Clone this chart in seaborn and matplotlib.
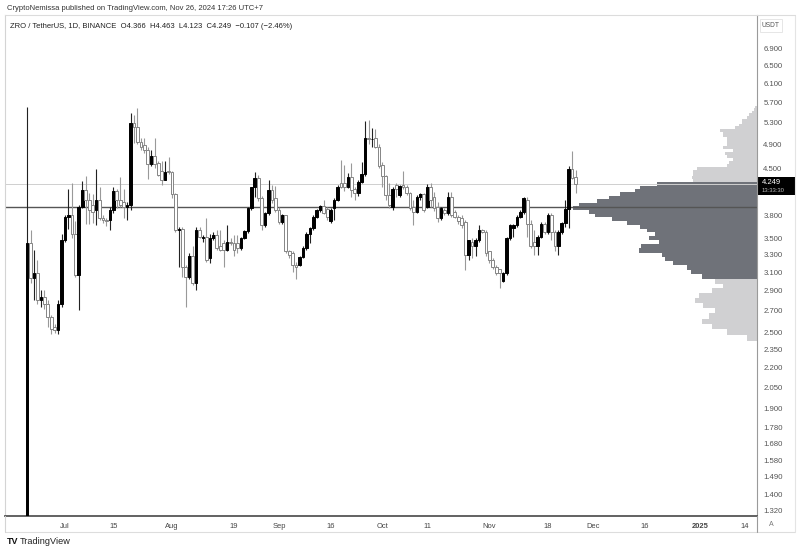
import matplotlib
matplotlib.use("Agg")
import numpy as np
import pandas as pd
import matplotlib.pyplot as plt
import matplotlib.dates as mdates
from matplotlib.patches import Rectangle
from matplotlib.lines import Line2D
from matplotlib.ticker import NullLocator, NullFormatter, FixedLocator, FixedFormatter
import seaborn as sns

# ---------------- data (daily candles ZRO/USDT, 2024-06-20 .. 2024-11-26) -------------
dates = pd.date_range("2024-06-20", "2024-11-26", freq="D")

opens = [1.20, 3.44, 3.04, 3.09, 2.81, 2.84, 2.77, 2.64, 2.55, 2.52, 2.77,            # Jun 20-30
         3.48, 3.78, 3.81, 3.55, 3.07, 3.92, 4.16, 4.02, 3.95, 3.87, 4.02, 3.76, 3.74, 3.74, 3.87, 4.15,
         4.02, 3.98, 3.92, 3.95, 5.29, 5.22, 4.95, 4.89, 4.80, 4.56, 4.70, 4.58, 4.45, 4.31, 4.46,  # Jul
         4.44, 4.10, 3.61, 3.62, 3.16, 3.05, 3.28, 2.98, 3.61, 3.50, 3.52, 3.26, 3.50, 3.54, 3.40, 3.44,
         3.36, 3.46, 3.44, 3.44, 3.38, 3.50, 3.59, 3.90, 4.21, 4.34, 4.04, 3.67, 3.83, 4.16, 4.04,  # Aug
         3.87, 3.71, 3.80, 3.34, 3.32, 3.18, 3.18, 3.27, 3.38, 3.56, 3.63, 3.78, 3.87, 3.93, 3.89,
         3.72, 3.90, 4.02, 4.26, 4.26, 4.21, 4.36, 4.18, 4.11, 4.28, 4.40, 5.01, 4.99, 5.01, 4.86,  # Sep
         4.55, 4.37, 4.09, 3.92, 4.23, 4.09, 4.23, 4.21, 4.11, 3.92, 3.85, 4.06, 4.10, 3.92, 4.21, 4.06,
         3.92, 3.76, 3.87, 3.83, 4.06, 3.85, 3.78, 3.76, 3.71, 3.30, 3.46, 3.40, 3.48, 3.61, 3.58,  # Oct
         3.34, 3.24, 3.16, 3.14, 3.00, 3.09, 3.50, 3.63, 3.67, 3.78, 3.84, 4.02, 3.69, 3.45, 3.40, 3.52,
         3.69, 3.58, 3.80, 3.58, 3.40, 3.58, 3.70, 3.89, 4.49, 4.366]                             # Nov
highs = [5.61, 3.61, 3.36, 3.24, 2.91, 2.91, 2.81, 2.66, 2.57, 2.81, 3.55,
         3.80, 4.18, 4.26, 3.72, 3.95, 4.30, 4.37, 4.11, 4.10, 4.49, 4.21, 3.80, 3.76, 3.92, 4.21, 4.18,
         4.36, 4.18, 3.98, 5.48, 5.45, 5.58, 5.01, 5.01, 4.86, 4.80, 5.01, 4.61, 4.61, 4.61, 4.69,
         4.46, 4.12, 3.65, 3.65, 3.18, 3.32, 3.40, 3.65, 3.65, 3.54, 3.76, 3.56, 3.58, 3.60, 3.61, 3.48,
         3.67, 3.50, 3.54, 3.54, 3.52, 3.61, 3.92, 4.21, 4.44, 4.39, 4.08, 3.85, 4.31, 4.24, 4.22,
         3.92, 3.82, 3.81, 3.36, 3.34, 3.22, 3.29, 3.40, 3.58, 3.65, 3.80, 3.89, 3.95, 4.02, 3.92,
         3.90, 4.04, 4.24, 4.64, 4.55, 4.42, 4.58, 4.21, 4.31, 4.60, 5.32, 5.35, 5.19, 5.17, 4.90,
         4.60, 4.39, 4.26, 4.21, 4.26, 4.24, 4.45, 4.23, 4.13, 4.02, 4.09, 4.11, 4.11, 4.25, 4.26, 4.13,
         3.99, 3.92, 3.90, 4.13, 4.13, 3.87, 3.80, 3.80, 3.74, 3.48, 3.50, 3.50, 3.67, 3.62, 3.61,
         3.34, 3.26, 3.18, 3.14, 3.10, 3.52, 3.69, 3.69, 3.80, 3.87, 4.06, 4.06, 3.74, 3.60, 3.54, 3.71,
         3.71, 3.83, 3.83, 3.60, 3.61, 3.71, 4.02, 4.53, 4.78, 4.463]
lows = [1.15, 2.98, 2.81, 2.77, 2.74, 2.72, 2.55, 2.48, 2.49, 2.48, 2.74,
        3.46, 3.62, 3.50, 3.05, 2.71, 3.90, 3.69, 3.69, 3.70, 3.67, 3.74, 3.70, 3.66, 3.61, 3.83, 3.90,
        3.92, 3.76, 3.74, 3.87, 4.92, 4.90, 4.80, 4.75, 4.33, 4.53, 4.51, 4.37, 4.24, 4.31, 4.40,
        4.05, 3.58, 3.16, 3.05, 2.74, 3.02, 2.96, 2.91, 3.50, 3.46, 3.22, 3.20, 3.48, 3.36, 3.34, 3.16,
        3.34, 3.42, 3.28, 3.32, 3.36, 3.49, 3.57, 3.88, 4.06, 4.00, 3.61, 3.65, 3.81, 3.97, 3.85,
        3.69, 3.69, 3.32, 3.26, 3.10, 3.03, 3.17, 3.26, 3.36, 3.44, 3.61, 3.76, 3.84, 3.82, 3.74,
        3.70, 3.74, 4.00, 4.19, 4.15, 4.19, 4.06, 4.02, 4.08, 4.26, 4.37, 4.90, 4.86, 4.84, 4.51,
        4.20, 4.02, 3.90, 3.87, 4.06, 4.06, 4.18, 4.09, 3.87, 3.67, 3.83, 4.02, 3.85, 3.90, 3.92, 3.86,
        3.71, 3.74, 3.81, 3.81, 3.78, 3.76, 3.69, 3.63, 3.12, 3.24, 3.26, 3.28, 3.46, 3.57, 3.28,
        3.20, 3.14, 3.07, 2.93, 2.99, 3.07, 3.48, 3.52, 3.65, 3.76, 3.82, 3.52, 3.38, 3.30, 3.30, 3.50,
        3.56, 3.56, 3.48, 3.34, 3.30, 3.56, 3.65, 3.63, 4.33, 4.123]
closes = [3.44, 3.04, 3.09, 2.81, 2.84, 2.77, 2.64, 2.53, 2.52, 2.77, 3.48,
          3.78, 3.81, 3.55, 3.07, 3.92, 4.16, 4.02, 3.87, 3.85, 4.02, 3.76, 3.74, 3.72, 3.87, 4.15, 4.02,
          3.95, 3.92, 3.95, 5.29, 5.22, 4.95, 4.86, 4.80, 4.56, 4.70, 4.56, 4.39, 4.31, 4.44, 4.44,
          4.10, 3.61, 3.62, 3.16, 3.05, 3.28, 2.98, 3.61, 3.52, 3.52, 3.24, 3.50, 3.54, 3.38, 3.36, 3.36,
          3.46, 3.44, 3.36, 3.38, 3.50, 3.59, 3.90, 4.21, 4.34, 4.04, 3.67, 3.83, 4.16, 4.02, 3.87,
          3.71, 3.80, 3.34, 3.30, 3.18, 3.16, 3.27, 3.38, 3.56, 3.63, 3.78, 3.87, 3.93, 3.83, 3.78,
          3.87, 4.02, 4.21, 4.21, 4.21, 4.36, 4.16, 4.11, 4.28, 4.40, 5.01, 4.99, 5.00, 4.86, 4.53,
          4.37, 4.09, 3.95, 4.18, 4.18, 4.22, 4.20, 4.11, 3.90, 3.85, 4.06, 4.10, 3.87, 4.21, 4.02, 3.90,
          3.76, 3.90, 3.83, 4.06, 3.80, 3.78, 3.72, 3.67, 3.30, 3.48, 3.40, 3.48, 3.61, 3.58, 3.32,
          3.24, 3.16, 3.09, 3.09, 3.09, 3.50, 3.67, 3.67, 3.78, 3.84, 4.04, 3.69, 3.40, 3.40, 3.52, 3.69,
          3.58, 3.80, 3.58, 3.40, 3.58, 3.70, 3.89, 4.49, 4.35, 4.249]

# visible-range volume profile (row centre price, relative volume)
vp_price = [2.45, 2.50, 2.55, 2.60, 2.65, 2.70, 2.75, 2.80, 2.85, 2.90, 2.95, 3.00,
            3.05, 3.10, 3.15, 3.20, 3.25, 3.30, 3.35, 3.40, 3.45, 3.50, 3.55, 3.60, 3.65,
            3.70, 3.75, 3.80, 3.85, 3.90, 3.95, 4.00, 4.05, 4.10, 4.15, 4.20, 4.25,
            4.30, 4.35, 4.40, 4.45, 4.50, 4.55, 4.60, 4.65, 4.70, 4.75, 4.80, 4.85, 4.90,
            4.95, 5.00, 5.05, 5.10, 5.15, 5.20, 5.25, 5.30, 5.35, 5.40, 5.45, 5.50, 5.55, 5.60]
vp_volume = [10, 30, 45, 55, 48, 42, 54, 62, 58, 45, 34, 42,
             55, 66, 70, 84, 92, 95, 118, 116, 98, 108, 102, 110, 117,
             130, 145, 162, 168, 184, 178, 160, 148, 137, 122, 117, 100,
             64, 65, 64, 64, 60, 30, 28, 24, 30, 32, 24, 34, 30,
             30, 30, 34, 34, 37, 22, 18, 15, 15, 10, 8, 5, 3, 2]
va_low, va_high = 3.05, 4.25
poc_price = 3.92

ytick_vals = [6.9, 6.5, 6.1, 5.7, 5.3, 4.9, 4.5, 3.8, 3.5, 3.3, 3.1, 2.9, 2.7, 2.5,
              2.35, 2.2, 2.05, 1.9, 1.78, 1.68, 1.58, 1.49, 1.40, 1.32]
xtick_dates = ["2024-07-01", "2024-07-15", "2024-08-01", "2024-08-19", "2024-09-01",
               "2024-09-16", "2024-10-01", "2024-10-14", "2024-11-01", "2024-11-18",
               "2024-12-01", "2024-12-16", "2025-01-01", "2025-01-14"]
xtick_labels = ["Jul", "15", "Aug", "19", "Sep", "16", "Oct", "11", "Nov", "18",
                "Dec", "16", "2025", "14"]

# ---------------- style ----------------
sns.set_theme(style="white")
plt.rcParams['font.family'] = ['Liberation Sans', 'DejaVu Sans']

W, H = 800, 552
fig = plt.figure(figsize=(W / 100, H / 100), dpi=100)
fig.patch.set_facecolor('white')
PL, PR, PT, PB = 5, 757, 15, 516
ax = fig.add_axes([PL / W, 1 - PB / H, (PR - PL) / W, (PB - PT) / H])
ax.set_yscale('log')
ax2 = ax.twiny()

x = mdates.date2num(dates)
o = np.array(opens); hi = np.array(highs); lo = np.array(lows); c = np.array(closes)
up = c >= o
face = np.where(up, '#000000', '#ffffff')
edge = np.where(up, '#000000', '#858585')
wick = np.where(up, '#222222', '#999999')

ax.vlines(x, lo, hi, colors=wick, linewidth=0.8, zorder=3)
ax.bar(x, np.abs(c - o), bottom=np.minimum(o, c), width=0.78, color=face,
       edgecolor=edge, linewidth=0.7, zorder=4)

# lines: POC and last price
ax.axhline(poc_price, color='#555555', linewidth=1.0, zorder=2)
ax.axhline(closes[-1], color='#cfcfcf', linewidth=0.7, zorder=2)

# volume profile on twin axis, growing from the right edge
vp_p = np.array(vp_price); vp_v = np.array(vp_volume)
in_va = (vp_p >= va_low - 1e-9) & (vp_p <= va_high + 1e-9)
vp_col = np.where(in_va, '#6f7279', '#d0d0d2')
ax2.barh(vp_p, vp_v, height=0.05, left=0, color=vp_col, edgecolor='none', linewidth=0, zorder=1)
ax2.set_xlim(vp_v.max() / (184 / (PR - PL)), 0)
ax2.set_xticks([])
for s in ax2.spines.values():
    s.set_visible(False)
ax.set_zorder(ax2.get_zorder() + 1)
ax.patch.set_visible(False)

# limits
x0 = mdates.date2num(pd.Timestamp("2024-07-01"))
ax.set_xlim(x0 - 17.4, x0 + 200.6)
ax.set_ylim(1.294, 7.79)

# y ticks on the right
ax.yaxis.tick_right()
ax.yaxis.set_major_locator(FixedLocator(ytick_vals))
ax.yaxis.set_major_formatter(FixedFormatter([f"{v:.3f}" for v in ytick_vals]))
ax.yaxis.set_minor_locator(NullLocator())
ax.yaxis.set_minor_formatter(NullFormatter())
ax.tick_params(axis='y', length=0, pad=4.5, labelsize=5.6, labelcolor='#555555')

ax.set_xticks(mdates.date2num(pd.to_datetime(xtick_dates)))
ax.set_xticklabels(xtick_labels)
ax.tick_params(axis='x', length=0, pad=5, labelsize=5.4, labelcolor='#444444')
for t in ax.get_xticklabels():
    if t.get_text() == "2025":
        t.set_fontweight('bold')

ax.spines['left'].set_color('#d4d4d4'); ax.spines['left'].set_linewidth(0.8)
ax.spines['top'].set_color('#dcdcdc'); ax.spines['top'].set_linewidth(0.8)
ax.spines['right'].set_color('#9a9a9a'); ax.spines['right'].set_linewidth(0.8)
ax.spines['bottom'].set_color('#555555'); ax.spines['bottom'].set_linewidth(1.3)
ax.grid(False)

# frame lines in figure pixels
def fl(x1, y1, x2, y2, color='#dddddd', lw=0.8):
    fig.add_artist(Line2D([x1 / W, x2 / W], [1 - y1 / H, 1 - y2 / H], color=color, linewidth=lw))

fl(PL, 532, 795, 532)
fl(PL, PB, PL, 532, '#d4d4d4')
fl(PR, PB, PR, 532, '#9a9a9a')
fl(795, PT, 795, 532, '#e4e4e4')
fl(PR, PT, 795, PT, '#dcdcdc')

# texts
fig.text(7 / W, 1 - 8 / H, "CryptoNemissa published on TradingView.com, Nov 26, 2024 17:26 UTC+7",
         fontsize=5.5, color='#333333', va='center', ha='left')
fig.text(10 / W, 1 - 27 / H,
         "ZRO / TetherUS, 1D, BINANCE  O4.366  H4.463  L4.123  C4.249  \u22120.107 (\u22122.46%)",
         fontsize=5.5, color='#222222', va='center', ha='left')
fig.add_artist(Rectangle((760 / W, 1 - 32 / H), 22 / W, 13 / H, transform=fig.transFigure,
                         facecolor='white', edgecolor='#e2e2e2', linewidth=0.6))
fig.text(771 / W, 1 - 25.5 / H, "USDT", fontsize=4.8, color='#555555', va='center', ha='center')

# last price label box
fig.canvas.draw()
py = ax.transData.transform((x0, closes[-1]))[1] / 100.0 / (H / 100)
fig.add_artist(Rectangle((PR / W, py - 11 / H), 38 / W, 18 / H, transform=fig.transFigure,
                         facecolor='#000000', edgecolor='none'))
fig.text(762 / W, py + 2 / H, f"{closes[-1]:.3f}", fontsize=5.5, color='white', va='center', ha='left')
fig.text(762 / W, py - 6 / H, "13:33:30", fontsize=4.2, color='#bbbbbb', va='center', ha='left')

fig.text(771 / W, 1 - 525 / H, "A", fontsize=5, color='#777777', va='center', ha='center')
fig.text(7 / W, 1 - 541 / H, "TV", fontsize=6.5, color='#111111', va='center', ha='left',
         fontweight='heavy')
fig.text(20 / W, 1 - 541 / H, "TradingView", fontsize=6.6, color='#222222', va='center', ha='left')

fig.savefig("out.png", dpi=100, facecolor='white')
